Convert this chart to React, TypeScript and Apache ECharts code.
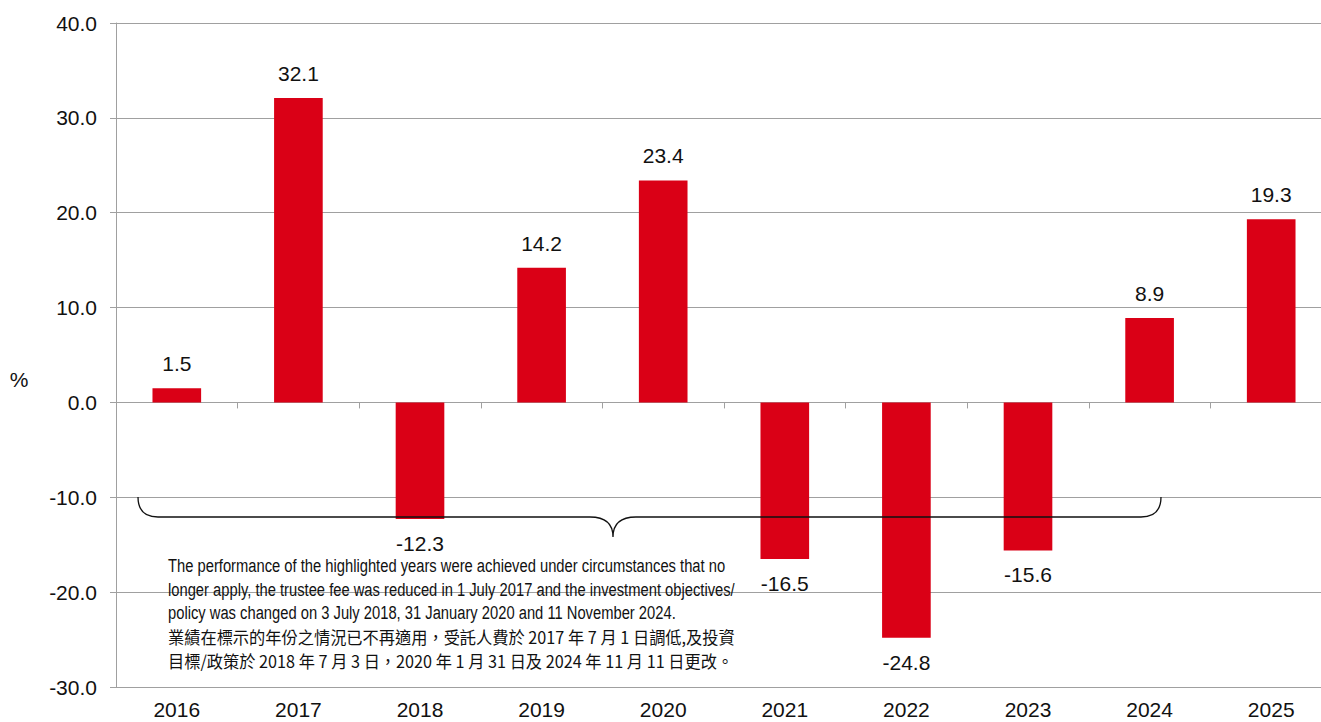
import React, { useEffect, useRef } from "react";
import * as echarts from "echarts";

const categories = ["2016", "2017", "2018", "2019", "2020", "2021", "2022", "2023", "2024", "2025"];
const values = [1.5, 32.1, -12.3, 14.2, 23.4, -16.5, -24.8, -15.6, 8.9, 19.3];
const yTicks = { min: -30, max: 40, interval: 10 };
const latinLines = [
  "The performance of the highlighted years were achieved under circumstances that no",
  "longer apply, the trustee fee was reduced in 1 July 2017 and the investment objectives/",
  "policy was changed on 3 July 2018, 31 January 2020 and 11 November 2024.",
];
const cjkLines = [
  "業績在標示的年份之情況已不再適用，受託人費於 2017 年 7 月 1 日調低,及投資",
  "目標/政策於 2018 年 7 月 3 日，2020 年 1 月 31 日及 2024 年 11 月 11 日更改。",
];

const braceD =
  "M138,497 Q138,517 158,517 L590,517 Q613,517 613,537 Q613,517 636,517 L1141,517 Q1161,517 1161,497";

let registered = false;

function measure(text: string, font: string): number {
  const c = document.createElement("canvas");
  const ctx = c.getContext("2d")!;
  ctx.font = font;
  return ctx.measureText(text).width;
}

export default function App() {
  const ref = useRef<HTMLDivElement>(null);
  useEffect(() => {
    if (!registered) {
      echarts.graphic.registerShape("brace", echarts.graphic.extendPath(braceD, {}));
      registered = true;
    }
    const chart = echarts.init(ref.current!, null, { renderer: "svg" });
    const font = "'Liberation Sans', Arial, sans-serif";
    const latinFont = "'Liberation Sans', Arial, sans-serif";
    const cjkFont = "'Noto Sans CJK TC', 'Liberation Sans', sans-serif";
    const latinSize = 19;
    const cjkSize = 17;
    const labelSize = 21;
    const latinScale = 557 / measure(latinLines[0], `${latinSize}px ${latinFont}`);
    const cjkScale = 567 / measure(cjkLines[0], `${cjkSize}px ${cjkFont}`);
    const lineCenters = [566, 590, 613, 637, 661];
    const noteGraphics: any[] = [];
    latinLines.forEach((t, i) => {
      noteGraphics.push({
        type: "text",
        x: 168,
        y: lineCenters[i],
        scaleX: latinScale,
        z: 100,
        style: { text: t, fontSize: latinSize, fill: "#111", fontFamily: latinFont, verticalAlign: "middle" },
      });
    });
    cjkLines.forEach((t, i) => {
      noteGraphics.push({
        type: "text",
        x: 168,
        y: lineCenters[3 + i],
        scaleX: cjkScale,
        z: 100,
        style: { text: t, fontSize: cjkSize, fill: "#111", fontFamily: cjkFont, verticalAlign: "middle" },
      });
    });

    chart.setOption({
      animation: false,
      textStyle: { fontFamily: font },
      grid: { left: 116, width: 1216, top: 23, bottom: 35, containLabel: false, outerBoundsMode: "none" },
      xAxis: [
        {
          type: "category",
          data: categories,
          position: "bottom",
          axisLine: { show: false, onZero: false },
          axisTick: { show: false },
          axisLabel: { fontSize: labelSize, color: "#111", margin: 12, fontFamily: font },
          splitLine: { show: false },
        },
        {
          type: "category",
          data: categories,
          position: "top",
          axisLine: { show: true, onZero: true, lineStyle: { color: "#a0a0a0", width: 1 } },
          axisTick: { show: true, inside: true, length: 6, lineStyle: { color: "#a0a0a0" } },
          axisLabel: { show: false },
          splitLine: { show: false },
        },
      ],
      yAxis: {
        type: "value",
        min: yTicks.min,
        max: yTicks.max,
        interval: yTicks.interval,
        axisLine: { show: true, lineStyle: { color: "#a0a0a0", width: 1 } },
        axisTick: { show: true, length: 6, lineStyle: { color: "#a0a0a0" } },
        axisLabel: {
          fontSize: labelSize,
          color: "#111",
          margin: 19,
          fontFamily: font,
          formatter: (v: number) => v.toFixed(1),
        },
        splitLine: { show: true, lineStyle: { color: "#a0a0a0", width: 1 } },
      },
      series: [
        {
          type: "bar",
          xAxisIndex: 0,
          barWidth: "40%",
          itemStyle: { color: "#da0016" },
          data: values.map((v) => ({
            value: v,
            label: {
              show: true,
              position: v >= 0 ? "top" : "bottom",
              distance: 14,
              fontSize: labelSize,
              color: "#111",
              fontFamily: font,
              formatter: (p: any) => Number(p.value).toFixed(1),
            },
          })),
        },
      ],
      graphic: [
        {
          type: "text",
          x: 19,
          y: 379,
          style: { text: "%", fontSize: labelSize, fill: "#111", fontFamily: font, align: "center", verticalAlign: "middle" },
        },
        {
          type: "brace",
          z: 100,
          style: { fill: "none", stroke: "#111", lineWidth: 1.3 },
        },
        ...noteGraphics,
      ],
    });
    return () => chart.dispose();
  }, []);
  return <div ref={ref} style={{ width: 1321, height: 722, position: "absolute", left: 0, top: 0 }} />;
}
